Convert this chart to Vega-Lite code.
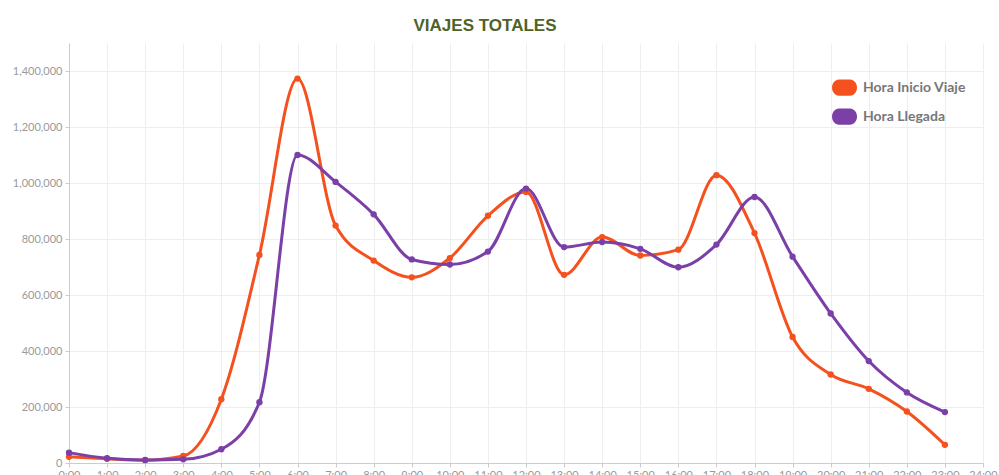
{
  "$schema": "https://vega.github.io/schema/vega-lite/v6.json",
  "width": 914,
  "height": 420,
  "autosize": {"type": "none"},
  "padding": {"left": 69, "top": 43, "right": 16, "bottom": 12},
  "background": "white",
  "title": {
    "text": "VIAJES TOTALES",
    "anchor": "middle",
    "dx": -41,
    "offset": -5,
    "baseline": "alphabetic",
    "font": "Liberation Sans",
    "fontSize": 17,
    "fontWeight": "bold",
    "color": "#4f6228"
  },
  "config": {
    "view": {"stroke": null},
    "axis": {
      "labelFont": "Lato",
      "labelColor": "#9a9a9a",
      "labelFontSize": 11,
      "gridColor": "#eeeeee",
      "gridWidth": 1,
      "domainColor": "#cccccc",
      "tickColor": "#cccccc",
      "tickSize": 4
    }
  },
  "data": {
    "values": [
      {"hour": 0, "serie": "Hora Inicio Viaje", "viajes": 22000},
      {"hour": 1, "serie": "Hora Inicio Viaje", "viajes": 15000},
      {"hour": 2, "serie": "Hora Inicio Viaje", "viajes": 10000},
      {"hour": 3, "serie": "Hora Inicio Viaje", "viajes": 25000},
      {"hour": 4, "serie": "Hora Inicio Viaje", "viajes": 228000},
      {"hour": 5, "serie": "Hora Inicio Viaje", "viajes": 743000},
      {"hour": 6, "serie": "Hora Inicio Viaje", "viajes": 1373000},
      {"hour": 7, "serie": "Hora Inicio Viaje", "viajes": 848000},
      {"hour": 8, "serie": "Hora Inicio Viaje", "viajes": 723000},
      {"hour": 9, "serie": "Hora Inicio Viaje", "viajes": 663000},
      {"hour": 10, "serie": "Hora Inicio Viaje", "viajes": 732000},
      {"hour": 11, "serie": "Hora Inicio Viaje", "viajes": 883000},
      {"hour": 12, "serie": "Hora Inicio Viaje", "viajes": 968000},
      {"hour": 13, "serie": "Hora Inicio Viaje", "viajes": 672000},
      {"hour": 14, "serie": "Hora Inicio Viaje", "viajes": 807000},
      {"hour": 15, "serie": "Hora Inicio Viaje", "viajes": 741000},
      {"hour": 16, "serie": "Hora Inicio Viaje", "viajes": 762000},
      {"hour": 17, "serie": "Hora Inicio Viaje", "viajes": 1028000},
      {"hour": 18, "serie": "Hora Inicio Viaje", "viajes": 821000},
      {"hour": 19, "serie": "Hora Inicio Viaje", "viajes": 450000},
      {"hour": 20, "serie": "Hora Inicio Viaje", "viajes": 316000},
      {"hour": 21, "serie": "Hora Inicio Viaje", "viajes": 265000},
      {"hour": 22, "serie": "Hora Inicio Viaje", "viajes": 184000},
      {"hour": 23, "serie": "Hora Inicio Viaje", "viajes": 65000},
      {"hour": 0, "serie": "Hora Llegada", "viajes": 37000},
      {"hour": 1, "serie": "Hora Llegada", "viajes": 17000},
      {"hour": 2, "serie": "Hora Llegada", "viajes": 11000},
      {"hour": 3, "serie": "Hora Llegada", "viajes": 13000},
      {"hour": 4, "serie": "Hora Llegada", "viajes": 49000},
      {"hour": 5, "serie": "Hora Llegada", "viajes": 217000},
      {"hour": 6, "serie": "Hora Llegada", "viajes": 1100000},
      {"hour": 7, "serie": "Hora Llegada", "viajes": 1004000},
      {"hour": 8, "serie": "Hora Llegada", "viajes": 888000},
      {"hour": 9, "serie": "Hora Llegada", "viajes": 727000},
      {"hour": 10, "serie": "Hora Llegada", "viajes": 709000},
      {"hour": 11, "serie": "Hora Llegada", "viajes": 755000},
      {"hour": 12, "serie": "Hora Llegada", "viajes": 980000},
      {"hour": 13, "serie": "Hora Llegada", "viajes": 771000},
      {"hour": 14, "serie": "Hora Llegada", "viajes": 789000},
      {"hour": 15, "serie": "Hora Llegada", "viajes": 765000},
      {"hour": 16, "serie": "Hora Llegada", "viajes": 699000},
      {"hour": 17, "serie": "Hora Llegada", "viajes": 780000},
      {"hour": 18, "serie": "Hora Llegada", "viajes": 950000},
      {"hour": 19, "serie": "Hora Llegada", "viajes": 737000},
      {"hour": 20, "serie": "Hora Llegada", "viajes": 534000},
      {"hour": 21, "serie": "Hora Llegada", "viajes": 364000},
      {"hour": 22, "serie": "Hora Llegada", "viajes": 252000},
      {"hour": 23, "serie": "Hora Llegada", "viajes": 182000}
    ]
  },
  "encoding": {
    "x": {
      "field": "hour",
      "type": "quantitative",
      "scale": {"domain": [0, 24], "nice": false, "zero": false},
      "axis": {
        "title": null,
        "values": [0,1,2,3,4,5,6,7,8,9,10,11,12,13,14,15,16,17,18,19,20,21,22,23,24],
        "labelExpr": "datum.value + ':00'",
        "labelPadding": 2,
        "labelFlush": false,
        "labelOverlap": false
      }
    },
    "y": {
      "field": "viajes",
      "type": "quantitative",
      "scale": {"domain": [0, 1500000], "nice": false},
      "axis": {
        "title": null,
        "values": [0, 200000, 400000, 600000, 800000, 1000000, 1200000, 1400000],
        "format": ",d",
        "labelPadding": 3
      }
    },
    "color": {
      "field": "serie",
      "type": "nominal",
      "scale": {"domain": ["Hora Inicio Viaje", "Hora Llegada"], "range": ["#f4511e", "#7b3fa8"]},
      "legend": {
        "title": null,
        "orient": "none",
        "legendX": 763,
        "legendY": 32,
        "symbolType": "M-0.45,-0.65 H0.45 A0.55,0.65 0 0 1 0.45,0.65 H-0.45 A0.55,0.65 0 0 1 -0.45,-0.65 Z",
        "symbolSize": 625,
        "symbolStrokeWidth": 0,
        "rowPadding": 8,
        "labelFont": "Lato",
        "labelFontSize": 14,
        "labelFontWeight": "bold",
        "labelColor": "#777777",
        "labelOffset": 6,
        "encode": {
          "symbols": {"update": {"fill": {"scale": "color", "field": "value"}, "opacity": {"value": 1}}}
        }
      }
    }
  },
  "layer": [
    {"mark": {"type": "line", "strokeWidth": 3, "interpolate": "monotone"}},
    {"mark": {"type": "point", "filled": true, "size": 40, "opacity": 1}}
  ]
}
